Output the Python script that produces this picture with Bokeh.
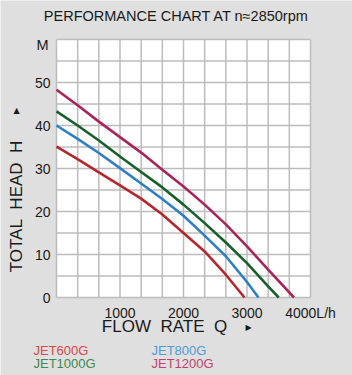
import numpy as np
from bokeh.plotting import figure
from bokeh.core.properties import value
from bokeh.embed import file_html
from bokeh.resources import INLINE

# ---- data ----
flow_600 = [0, 333, 667, 1000, 1333, 1667, 2000, 2333, 2667, 2960]
head_600 = [35.1, 32.2, 29.1, 26.1, 23.0, 19.3, 15.0, 10.7, 5.3, 0.0]

flow_800 = [0, 333, 667, 1000, 1333, 1667, 2000, 2333, 2667, 3000, 3180]
head_800 = [40.0, 36.9, 33.6, 30.1, 26.5, 22.9, 19.0, 14.4, 9.6, 3.6, 0.0]

flow_1000 = [0, 333, 667, 1000, 1333, 1667, 2000, 2333, 2667, 3000, 3333, 3500]
head_1000 = [43.3, 40.0, 36.5, 32.8, 29.2, 25.6, 21.6, 17.3, 12.8, 8.0, 2.6, 0.0]

flow_1200 = [0, 333, 667, 1000, 1333, 1667, 2000, 2333, 2667, 3000, 3333, 3740]
head_1200 = [48.3, 44.7, 40.9, 37.3, 33.7, 29.7, 25.8, 21.6, 17.0, 11.9, 6.5, 0.0]

models = ["JET600G", "JET800G", "JET1000G", "JET1200G"]
line_colors = ["#b3272d", "#2f7fc4", "#17602a", "#a8245a"]
legend_colors = ["#d8474b", "#4e9bd8", "#3b8a50", "#c63f6d"]

x_ticks = [1000, 2000, 3000, 4000]
x_tick_labels = ["1000", "2000", "3000", "4000L/h"]
y_ticks = [0, 10, 20, 30, 40, 50]
y_tick_labels = ["0", "10", "20", "30", "40", "50"]

NB = "\u00a0"
title_text = "PERFORMANCE CHART AT n\u22482850rpm"
x_title = "FLOW" + NB * 2 + "RATE" + NB * 2 + "Q"
y_title = "TOTAL" + NB * 2 + "HEAD" + NB * 2 + "H"
y_unit = "M"

# ---- layout (pixel geometry of the plotting area) ----
W, H = 352, 375
FL, FR, FT, FB = 56, 310, 39, 297
XMAX, YMAX = 4000, 60
BG = "#dfdfdf"
GRID = "#bcbcbc"
TXT = "#1a1a1a"
FONT = "Liberation Sans"

SX = XMAX / (FR - FL)
SY = YMAX / (FB - FT)

def dx(px):
    return (px - FL) * SX

def dy(py):
    return (FB - py) * SY

p = figure(width=W, height=H, output_backend="svg", toolbar_location=None,
           x_range=(dx(0), dx(W)), y_range=(dy(H), dy(0)),
           min_border=0, min_border_left=0, min_border_right=0,
           min_border_top=0, min_border_bottom=0)
p.border_fill_color = BG
p.background_fill_color = BG
p.outline_line_color = None
p.axis.visible = False
p.grid.visible = False

# white plotting area
p.quad(left=[0], right=[XMAX], bottom=[0], top=[YMAX],
       fill_color="white", line_color=None)

# grid (12 x 12 cells)
gx = [i * XMAX / 12 for i in range(13)]
gy = [i * YMAX / 12 for i in range(13)]
p.segment(x0=gx, y0=[0] * len(gx), x1=gx, y1=[YMAX] * len(gx),
          line_color=GRID, line_width=1.5)
p.segment(x0=[0] * len(gy), y0=gy, x1=[XMAX] * len(gy), y1=gy,
          line_color=GRID, line_width=1.5)

# curves
series = [(flow_600, head_600), (flow_800, head_800),
          (flow_1000, head_1000), (flow_1200, head_1200)]
for (fx, hy), c in zip(series, line_colors):
    p.line(fx, hy, line_color=c, line_width=2.6, line_join="round")

def txt(xs, ys, texts, size, color=TXT, align="center", angle=0.0, font=FONT):
    p.text(x=xs, y=ys, text=texts, text_font=value(font),
           text_font_size=size, text_color=color, text_align=align,
           text_baseline="middle", angle=angle)

# tick labels
txt(list(x_ticks), [dy(312)] * len(x_ticks), x_tick_labels, "14px")
txt([dx(50)] * len(y_ticks), list(y_ticks), y_tick_labels, "14px", align="right")

# titles
txt([dx(176)], [dy(15)], [title_text], "14.5px")
txt([dx(42)], [dy(44)], [y_unit], "14.5px")
txt([dx(164)], [dy(326)], [x_title], "17px")
txt([dx(248)], [dy(327)], ["\u25b6"], "8px", font="DejaVu Sans")
txt([dx(16)], [dy(206)], [y_title], "17px", angle=np.pi / 2)
txt([dx(16)], [dy(110)], ["\u25b2"], "8px", font="DejaVu Sans")

# legend (coloured names, two columns)
lx = [dx(33), dx(151), dx(33), dx(151)]
ly = [dy(350), dy(350), dy(362.5), dy(362.5)]
for name, c, x, y in zip(models, legend_colors, lx, ly):
    txt([x], [y], [name], "13px", color=c, align="left")

open("out.html", "w").write(file_html(p, INLINE))
